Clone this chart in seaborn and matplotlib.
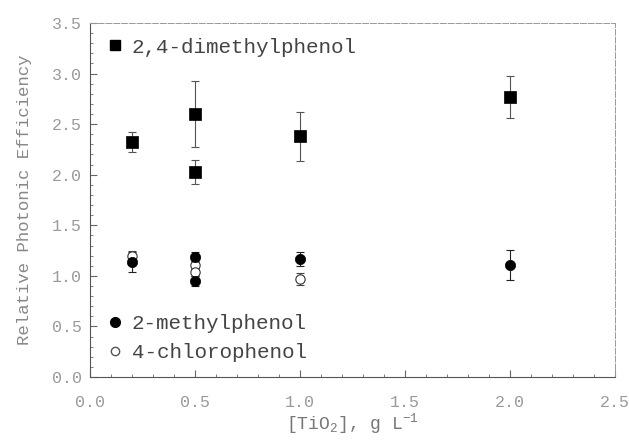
import seaborn as sns
import matplotlib.pyplot as plt
import pandas as pd
from matplotlib.lines import Line2D
from matplotlib.ticker import MultipleLocator

# values
dmp_x = [0.2, 0.5, 0.5, 1.0, 2.0]
dmp_y = [2.32, 2.60, 2.03, 2.38, 2.77]
dmp_err = [0.10, 0.33, 0.12, 0.24, 0.21]

mp_x = [0.2, 0.5, 0.5, 1.0, 2.0]
mp_y = [1.14, 1.19, 0.95, 1.17, 1.11]
mp_err = [0.10, 0.05, 0.05, 0.07, 0.15]

cp_x = [0.2, 0.5, 0.5, 1.0]
cp_y = [1.20, 1.11, 1.04, 0.97]
cp_err = [0.05, 0.04, 0.04, 0.06]

x_ticks = [0.0, 0.5, 1.0, 1.5, 2.0, 2.5]
y_ticks = [0.0, 0.5, 1.0, 1.5, 2.0, 2.5, 3.0, 3.5]

FONT = "Liberation Mono"
TICK_GREY = "#9a9a9a"
TEXT_GREY = "#444444"


def plot_efficiency():
    sns.set_style("ticks")
    plt.rcParams["font.family"] = [FONT, "DejaVu Sans"]
    plt.rcParams["mathtext.fontset"] = "custom"
    plt.rcParams["mathtext.rm"] = FONT

    fig = plt.figure(figsize=(6.29, 4.42), dpi=100)
    ax = fig.add_axes([0.143, 0.147, 0.835, 0.801])

    dmp = pd.DataFrame({"x": dmp_x, "y": dmp_y})
    mp = pd.DataFrame({"x": mp_x, "y": mp_y})
    cp = pd.DataFrame({"x": cp_x, "y": cp_y})

    # error bars first, markers on top
    ax.errorbar(dmp_x, dmp_y, yerr=dmp_err, fmt="none", ecolor="#555555",
                elinewidth=0.8, capsize=3, capthick=0.8, zorder=2)
    ax.errorbar(mp_x, mp_y, yerr=mp_err, fmt="none", ecolor="#222222",
                elinewidth=0.8, capsize=3, capthick=0.8, zorder=2)
    ax.errorbar(cp_x, cp_y, yerr=cp_err, fmt="none", ecolor="#444444",
                elinewidth=0.8, capsize=3, capthick=0.8, zorder=2)

    sns.scatterplot(data=dmp, x="x", y="y", marker="s", s=65, color="black",
                    edgecolor="black", linewidth=0.5, ax=ax, zorder=3)
    sns.scatterplot(data=cp, x="x", y="y", marker="o", s=45, facecolor="white",
                    edgecolor="#333333", linewidth=0.8, ax=ax, zorder=3)
    sns.scatterplot(data=mp, x="x", y="y", marker="o", s=55, color="black",
                    edgecolor="black", linewidth=0.5, ax=ax, zorder=4)

    ax.set_xlim(0.0, 2.5)
    ax.set_ylim(0.0, 3.5)
    ax.set_xticks(x_ticks)
    ax.set_yticks(y_ticks)
    ax.set_xticklabels([f"{v:.1f}" for v in x_ticks])
    ax.set_yticklabels([f"{v:.1f}" for v in y_ticks])
    ax.xaxis.set_minor_locator(MultipleLocator(0.1))
    ax.yaxis.set_minor_locator(MultipleLocator(0.1))
    ax.tick_params(which="both", direction="in", top=False, right=False,
                   colors="#666666", labelcolor=TICK_GREY, labelsize=12)
    ax.tick_params(which="major", length=5, width=0.8)
    ax.tick_params(which="minor", length=2.5, width=0.6)
    ax.tick_params(axis="x", which="major", pad=13)
    ax.tick_params(axis="y", which="major", pad=6)

    for side in ["left", "bottom"]:
        ax.spines[side].set_color("#555555")
        ax.spines[side].set_linewidth(0.8)
    for side in ["top", "right"]:
        ax.spines[side].set_color("#999999")
        ax.spines[side].set_linewidth(0.7)
        ax.spines[side].set_linestyle((0, (6, 2)))

    ax.set_xlabel("[TiO$_2$], g L$^{-1}$", fontsize=13, color="#777777",
                  labelpad=1)
    ax.set_ylabel("Relative Photonic Efficiency", fontsize=12.5, color="#888888",
                  labelpad=14)

    top_handles = [Line2D([], [], marker="s", linestyle="none", color="black",
                          markersize=7.5, label="2,4-dimethylphenol")]
    leg1 = ax.legend(handles=top_handles, loc="upper left", frameon=False,
                     fontsize=15, handletextpad=0.3, borderaxespad=0.3,
                     handlelength=1.0, labelcolor=TEXT_GREY)
    ax.add_artist(leg1)

    bottom_handles = [
        Line2D([], [], marker="o", linestyle="none", color="black",
               markersize=7, label="2-methylphenol"),
        Line2D([], [], marker="o", linestyle="none", markerfacecolor="white",
               markeredgecolor="#555555", markersize=6, label="4-chlorophenol"),
    ]
    ax.legend(handles=bottom_handles, loc="lower left", frameon=False,
              fontsize=15, handletextpad=0.3, borderaxespad=0.3,
              handlelength=1.0, labelspacing=0.5, labelcolor=TEXT_GREY)

    fig.savefig("out.png", dpi=100)
    plt.close(fig)


if __name__ == "__main__":
    plot_efficiency()
